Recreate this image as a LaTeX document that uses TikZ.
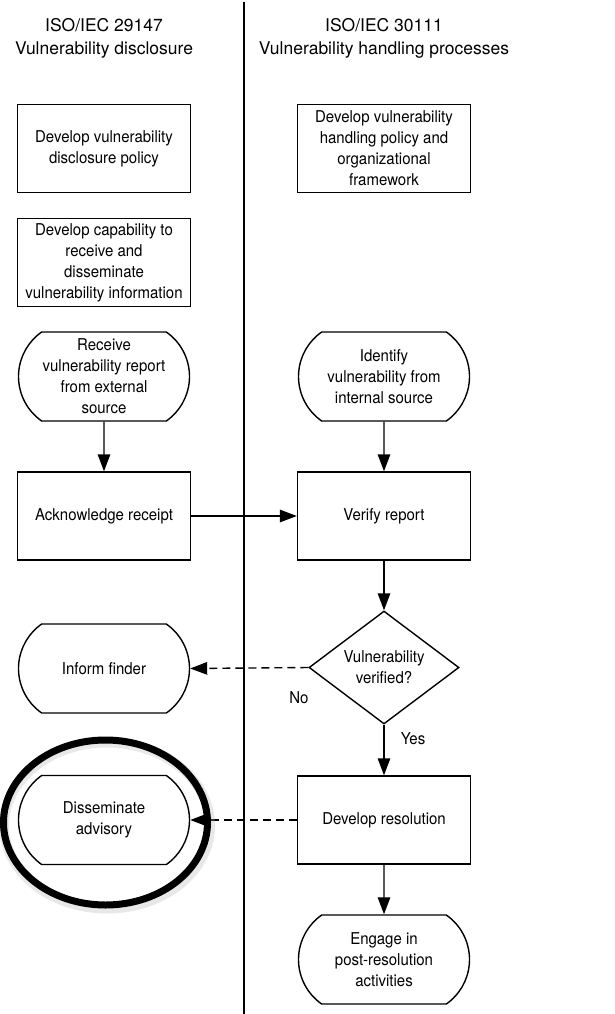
\documentclass[tikz,border=0pt]{standalone}
\usepackage{fontspec}
\setmainfont{TeX Gyre Heros}
\newfontfamily\bodyfont[FakeStretch=0.92]{TeX Gyre Heros}
\usetikzlibrary{arrows.meta,shapes.misc,shapes.geometric}
\begin{document}
\begin{tikzpicture}[x=1pt,y=-1pt,
  body/.style={font=\bodyfont\fontsize{16.3}{21}\selectfont, align=center, text=black},
  procbox/.style={body, draw, line width=1.4pt, minimum width=173pt, minimum height=88pt, inner sep=2pt},
  termbox/.style={body, draw, line width=1.4pt, rounded rectangle, rounded rectangle arc length=110, minimum width=173pt, minimum height=89pt, inner sep=1pt},
  decbox/.style={body, draw, line width=1.4pt, diamond, shape aspect=1.33, minimum width=150pt, minimum height=113pt, inner sep=0pt},
  header/.style={font=\fontsize{17.5}{23}\selectfont, align=center},
  flow/.style={line width=1.4pt, -{Triangle[length=17pt,width=12.5pt]}},
  dflow/.style={flow, dash pattern=on 8pt off 5pt},
  lbl/.style={font=\bodyfont\fontsize{16.3}{18}\selectfont}
]
\useasboundingbox (0,0) rectangle (615,1014);

% divider
\coordinate (dtop) at (244,2);
\coordinate (dbot) at (244,1014);
\draw[line width=1.8pt] (dtop) -- (dbot);

% headers
\node[header] (h1) at (104,38) {ISO/IEC 29147\\Vulnerability disclosure};
\node[header] (h2) at (384,38) {ISO/IEC 30111\\Vulnerability handling processes};

% left column
\node[procbox] (b1) at (104,148.5) {Develop vulnerability\\disclosure policy};
\node[procbox] (b2) at (104,262.5) {Develop capability to\\receive and\\disseminate\\vulnerability information};
\node[termbox] (s1) at (104,376.5) {Receive\\vulnerability report\\from external\\source};
\node[procbox] (ack) at (104,516) {Acknowledge receipt};
\node[termbox] (inf) at (104,668.5) {Inform finder};
\node[termbox] (dis) at (104,820) {Disseminate\\advisory};

% right column
\node[procbox] (r1) at (384,148.5) {Develop vulnerability\\handling policy and\\organizational\\framework};
\node[termbox] (s2) at (384,376.5) {Identify\\vulnerability from\\internal source};
\node[procbox] (ver) at (384,516) {Verify report};
\node[decbox] (dia) at (384,667.5) {Vulnerability\\verified?};
\node[procbox] (res) at (384,820) {Develop resolution};
\node[termbox] (eng) at (384,959.5) {Engage in\\post-resolution\\activities};

% connectors
\draw[flow] (s1) -- (ack);
\draw[flow] (s2) -- (ver);
\draw[flow] (ack) -- (ver);
\draw[flow] (ver) -- (dia);
\draw[dflow] (dia.west) -- (inf.east);
\draw[flow] (dia.south) -- (res.north);
\draw[dflow] (res.west) -- (dis.east);
\draw[flow] (res) -- (eng);

\node[lbl] (no) at (299,698) {No};
\node[lbl] (yes) at (413,739) {Yes};

% highlight ellipse
\node[draw=black!30, line width=10pt, opacity=0.3, ellipse, minimum width=206pt, minimum height=166pt, inner sep=0pt] (hlsh) at (107,825.5) {};
\node[draw=black, line width=7pt, ellipse, minimum width=204pt, minimum height=165pt, inner sep=0pt] (hl) at (105.5,822.5) {};
\end{tikzpicture}
\end{document}
